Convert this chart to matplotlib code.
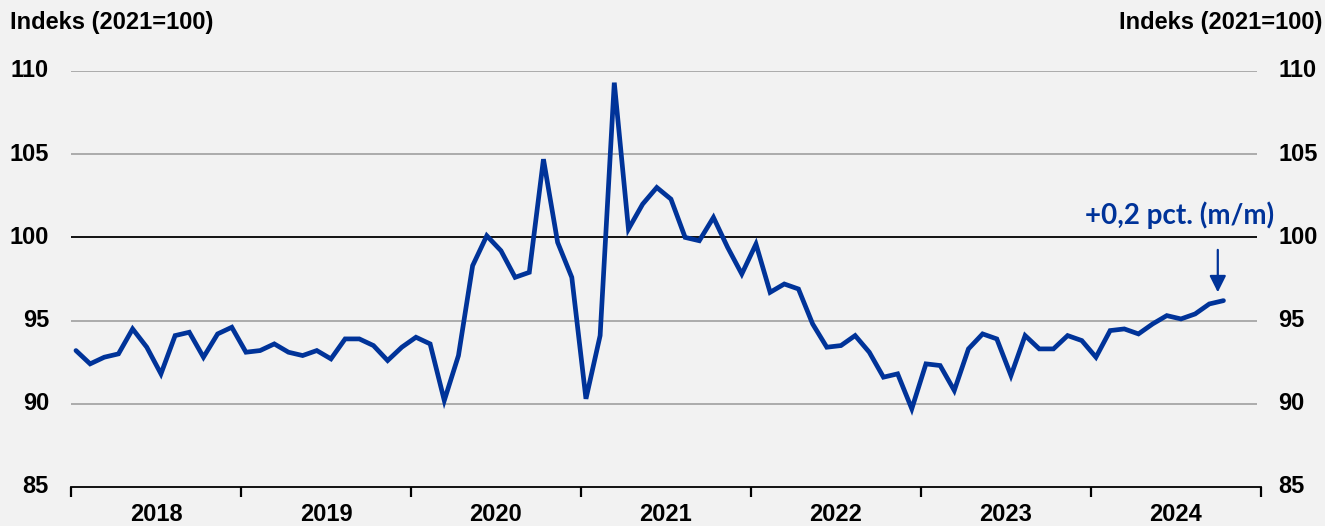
import matplotlib
matplotlib.use("Agg")
import matplotlib.pyplot as plt
import numpy as np

# Monthly index, Jan 2018 - Oct 2024 (2021=100)
values = [
    93.2, 92.4, 92.8, 93.0, 94.5, 93.4, 91.8, 94.1, 94.3, 92.8, 94.2, 94.6,   # 2018
    93.1, 93.2, 93.6, 93.1, 92.9, 93.2, 92.7, 93.9, 93.9, 93.5, 92.6, 93.4,   # 2019
    94.0, 93.6, 90.2, 92.9, 98.3, 100.1, 99.2, 97.6, 97.9, 104.7, 99.7, 97.6, # 2020
    90.3, 94.1, 109.3, 100.5, 102.0, 103.0, 102.3, 100.0, 99.8, 101.2, 99.4, 97.8,  # 2021
    99.6, 96.7, 97.2, 96.9, 94.8, 93.4, 93.5, 94.1, 93.1, 91.6, 91.8, 89.7,   # 2022
    92.4, 92.3, 90.8, 93.3, 94.2, 93.9, 91.7, 94.1, 93.3, 93.3, 94.1, 93.8,   # 2023
    92.8, 94.4, 94.5, 94.2, 94.8, 95.3, 95.1, 95.4, 96.0, 96.2,               # 2024
]
years = ["2018", "2019", "2020", "2021", "2022", "2023", "2024"]
yticks = [85, 90, 95, 100, 105, 110]
axis_title = "Indeks (2021=100)"
note = "+0,2 pct. (m/m)"

BG = "#F2F2F2"
BLUE = "#003399"
GRID = "#A6A6A6"
FONT = "Liberation Sans"
FS = 17

W, H = 1325, 526
fig = plt.figure(figsize=(W / 100, H / 100), dpi=100, facecolor=BG)
left, right, top, bottom = 71, 1261, 71, 487
ax = fig.add_axes([left / W, 1 - bottom / H, (right - left) / W, (bottom - top) / H])
ax.set_facecolor(BG)

x = np.arange(len(values))
offset = 0.35
ax.set_xlim(-offset, 12 * len(years) - offset)
ax.set_ylim(yticks[0], yticks[-1])

# horizontal gridlines; the base-year level drawn in black
for yv in yticks[1:]:
    ax.plot([-offset, 12 * len(years) - offset - 0.25], [yv, yv],
            color="black" if yv == 100 else GRID, lw=1.3, zorder=1,
            solid_capstyle="butt")

ax.plot(x, values, color=BLUE, lw=3.4, zorder=3, solid_joinstyle="miter",
        solid_capstyle="round")

for s in ["top", "left", "right"]:
    ax.spines[s].set_visible(False)
ax.spines["bottom"].set_color("black")
ax.spines["bottom"].set_linewidth(1.3)

# year separators as ticks, year names centred between them
ax.set_xticks([-offset + 12 * k for k in range(len(years) + 1)])
ax.set_xticklabels([])
ax.tick_params(axis="x", direction="out", length=7, width=1.6, color="black")
ax.set_xticks([-offset + 12 * k + 6 for k in range(len(years))], minor=True)
ax.set_xticklabels(years, minor=True, fontsize=FS, fontweight="bold", family=FONT)
ax.tick_params(axis="x", which="minor", length=0, pad=11.5)

ax.set_yticks([])
for yv in yticks:
    ax.text(-0.0185, yv, str(yv), transform=ax.get_yaxis_transform(),
            ha="right", va="center", fontsize=FS, fontweight="bold", family=FONT)
    ax.text(1.0145, yv, str(yv), transform=ax.get_yaxis_transform(),
            ha="left", va="center", fontsize=FS, fontweight="bold", family=FONT)

fig.text(10 / W, 1 - 23 / H, axis_title, ha="left", va="center",
         fontsize=FS, fontweight="bold", family=FONT)
fig.text(1322 / W, 1 - 23 / H, axis_title, ha="right", va="center",
         fontsize=FS, fontweight="bold", family=FONT)

# annotation for the latest month
last = len(values) - 1
ax.annotate("", xy=(last - 0.4, values[-1] + 0.5), xytext=(last - 0.4, 99.25),
            arrowprops=dict(arrowstyle="-|>,head_length=1.0,head_width=0.5",
                            color=BLUE, lw=1.6, shrinkA=0, shrinkB=0), zorder=4)
ax.text(last - 3.1, 101.35, note, ha="center", va="center", color=BLUE,
        fontsize=20, fontweight="bold", family="Lato")

fig.savefig("out.png", dpi=100, facecolor=BG)
